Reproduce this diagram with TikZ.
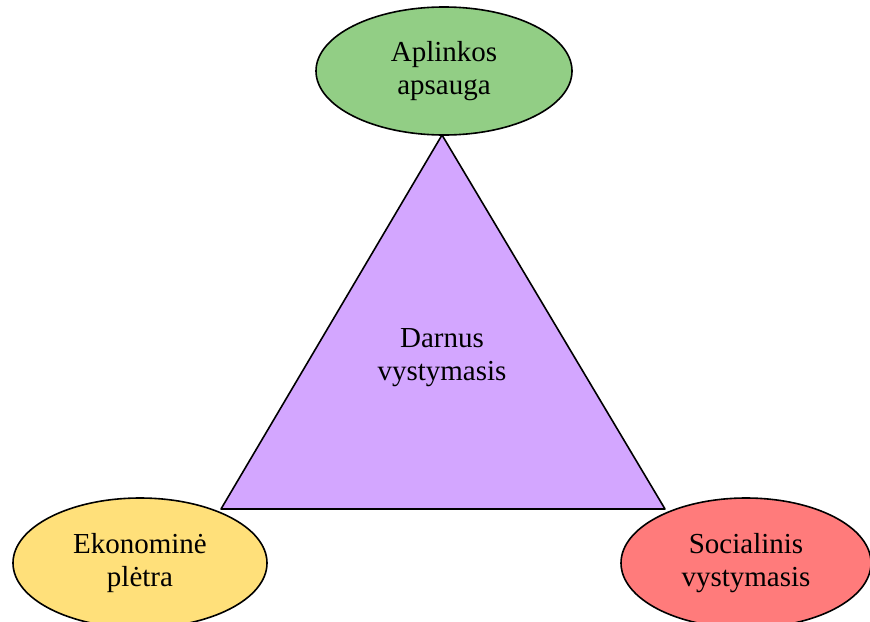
\documentclass[tikz,border=0pt]{standalone}
\usepackage{fontspec}
\setmainfont{Liberation Serif}
\usepackage{tikz}
\usetikzlibrary{shapes.geometric,positioning}
\definecolor{envgreen}{RGB}{146,206,133}
\definecolor{devpurple}{RGB}{211,166,255}
\definecolor{ecoyellow}{RGB}{255,224,122}
\definecolor{socred}{RGB}{255,123,123}
\tikzset{
  bubble/.style={ellipse,draw,line width=0.8pt,align=center,inner sep=0pt,
    minimum width=128pt,minimum height=64pt},
  every node/.style={font=\fontsize{14.5}{16.5}\selectfont}
}

\begin{document}
\begin{tikzpicture}[x=0.5pt,y=-0.5pt,line cap=round,line join=round]
  % ---- drawing window (matches the screenshot range) ----
  \useasboundingbox (0,0) rectangle (870,621);
  \clip (0,0) rectangle (870,621);

  % ---- triangle corners ----
  \coordinate (top) at (442,135);
  \coordinate (left) at (221,509);
  \coordinate (right) at (665,509);

  % ---- central triangle ----
  \filldraw[fill=devpurple,line width=0.8pt] (top) -- (left) -- (right) -- cycle;
  \node[align=center] (core) at (442,358) {Darnus\\vystymasis};

  % ---- three pillars ----
  \node[bubble,fill=envgreen] (env) at (444,71) {Aplinkos\\apsauga};
  \node[bubble,fill=ecoyellow,minimum width=127pt,minimum height=65pt] (eco) at (140,563) {Ekonominė\\plėtra};
  \node[bubble,fill=socred,minimum width=125pt,minimum height=65pt] (soc) at (746,563) {Socialinis\\vystymasis};
\end{tikzpicture}
\end{document}
